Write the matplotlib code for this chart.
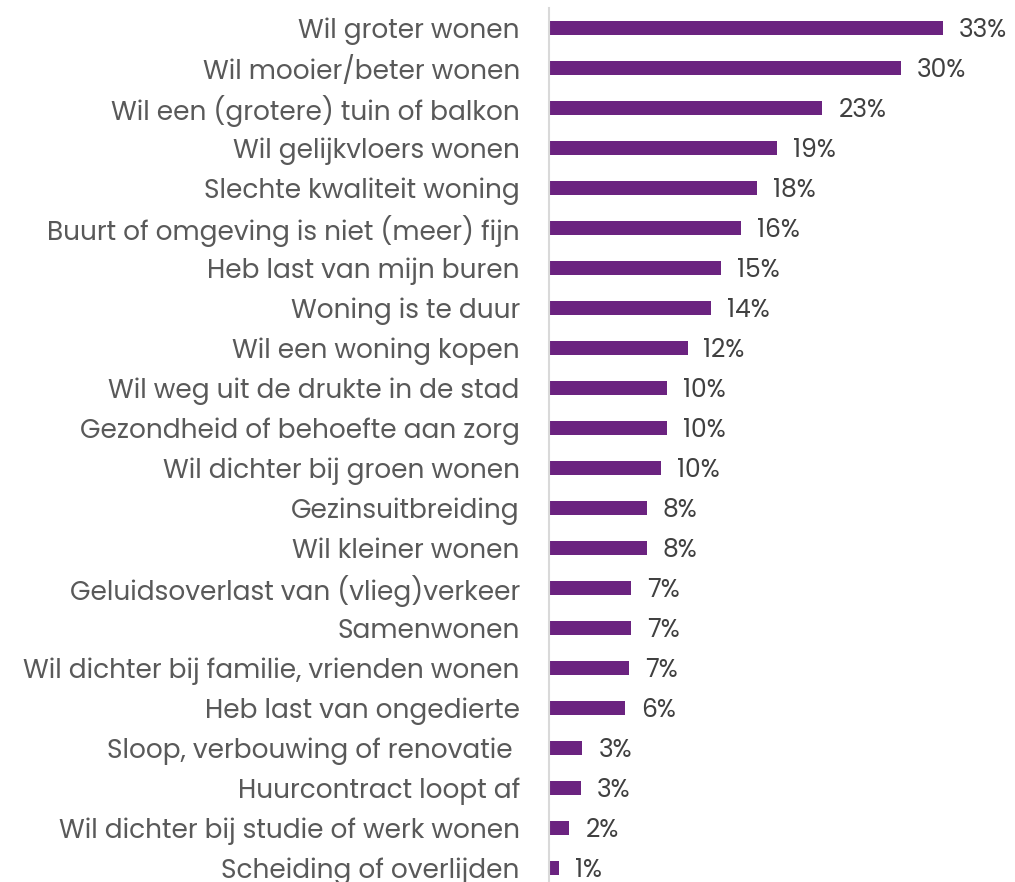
import matplotlib
matplotlib.use("Agg")
import matplotlib.pyplot as plt

categories = [
    "Wil groter wonen",
    "Wil mooier/beter wonen",
    "Wil een (grotere) tuin of balkon",
    "Wil gelijkvloers wonen",
    "Slechte kwaliteit woning",
    "Buurt of omgeving is niet (meer) fijn",
    "Heb last van mijn buren",
    "Woning is te duur",
    "Wil een woning kopen",
    "Wil weg uit de drukte in de stad",
    "Gezondheid of behoefte aan zorg",
    "Wil dichter bij groen wonen",
    "Gezinsuitbreiding",
    "Wil kleiner wonen",
    "Geluidsoverlast van (vlieg)verkeer",
    "Samenwonen",
    "Wil dichter bij familie, vrienden wonen",
    "Heb last van ongedierte",
    "Sloop, verbouwing of renovatie ",
    "Huurcontract loopt af",
    "Wil dichter bij studie of werk wonen",
    "Scheiding of overlijden",
]
values = [33.0, 29.5, 22.9, 19.1, 17.4, 16.1, 14.4, 13.6, 11.6, 9.9, 9.9, 9.4,
          8.2, 8.2, 6.9, 6.9, 6.7, 6.4, 2.8, 2.7, 1.7, 0.84]
value_labels = ["33%", "30%", "23%", "19%", "18%", "16%", "15%", "14%", "12%",
                "10%", "10%", "10%", "8%", "8%", "7%", "7%", "7%", "6%",
                "3%", "3%", "2%", "1%"]

W, H = 1015, 882
fig = plt.figure(figsize=(W / 100, H / 100), dpi=100)
left_px, right_px, top_px, bottom_px = 549, 1015, 8, 882
ax = fig.add_axes([left_px / W, 1 - bottom_px / H,
                   (right_px - left_px) / W, (bottom_px - top_px) / H])

font = ["Poppins", "Lato", "DejaVu Sans"]
ypos = list(range(len(categories)))
ax.barh(ypos, values, height=0.35, color="#6B2380")
ax.set_xlim(0, (right_px - left_px) / 11.94)
ax.set_ylim(21.35, -0.5)

for y, v, lab in zip(ypos, values, value_labels):
    ax.annotate(lab, (v, y), xytext=(11.5, -2), textcoords="offset points",
                va="center", ha="left", fontsize=18, color="#404040",
                family=font)

ax.set_yticks(ypos)
ax.set_yticklabels(categories, fontsize=19, color="#595959", family=font)
ax.tick_params(axis="y", length=0, pad=21)
ax.set_xticks([])
for s in ["top", "right", "bottom"]:
    ax.spines[s].set_visible(False)
ax.spines["left"].set_color("#D9D9D9")
ax.spines["left"].set_linewidth(1.5)

fig.savefig("out.png", dpi=100)
